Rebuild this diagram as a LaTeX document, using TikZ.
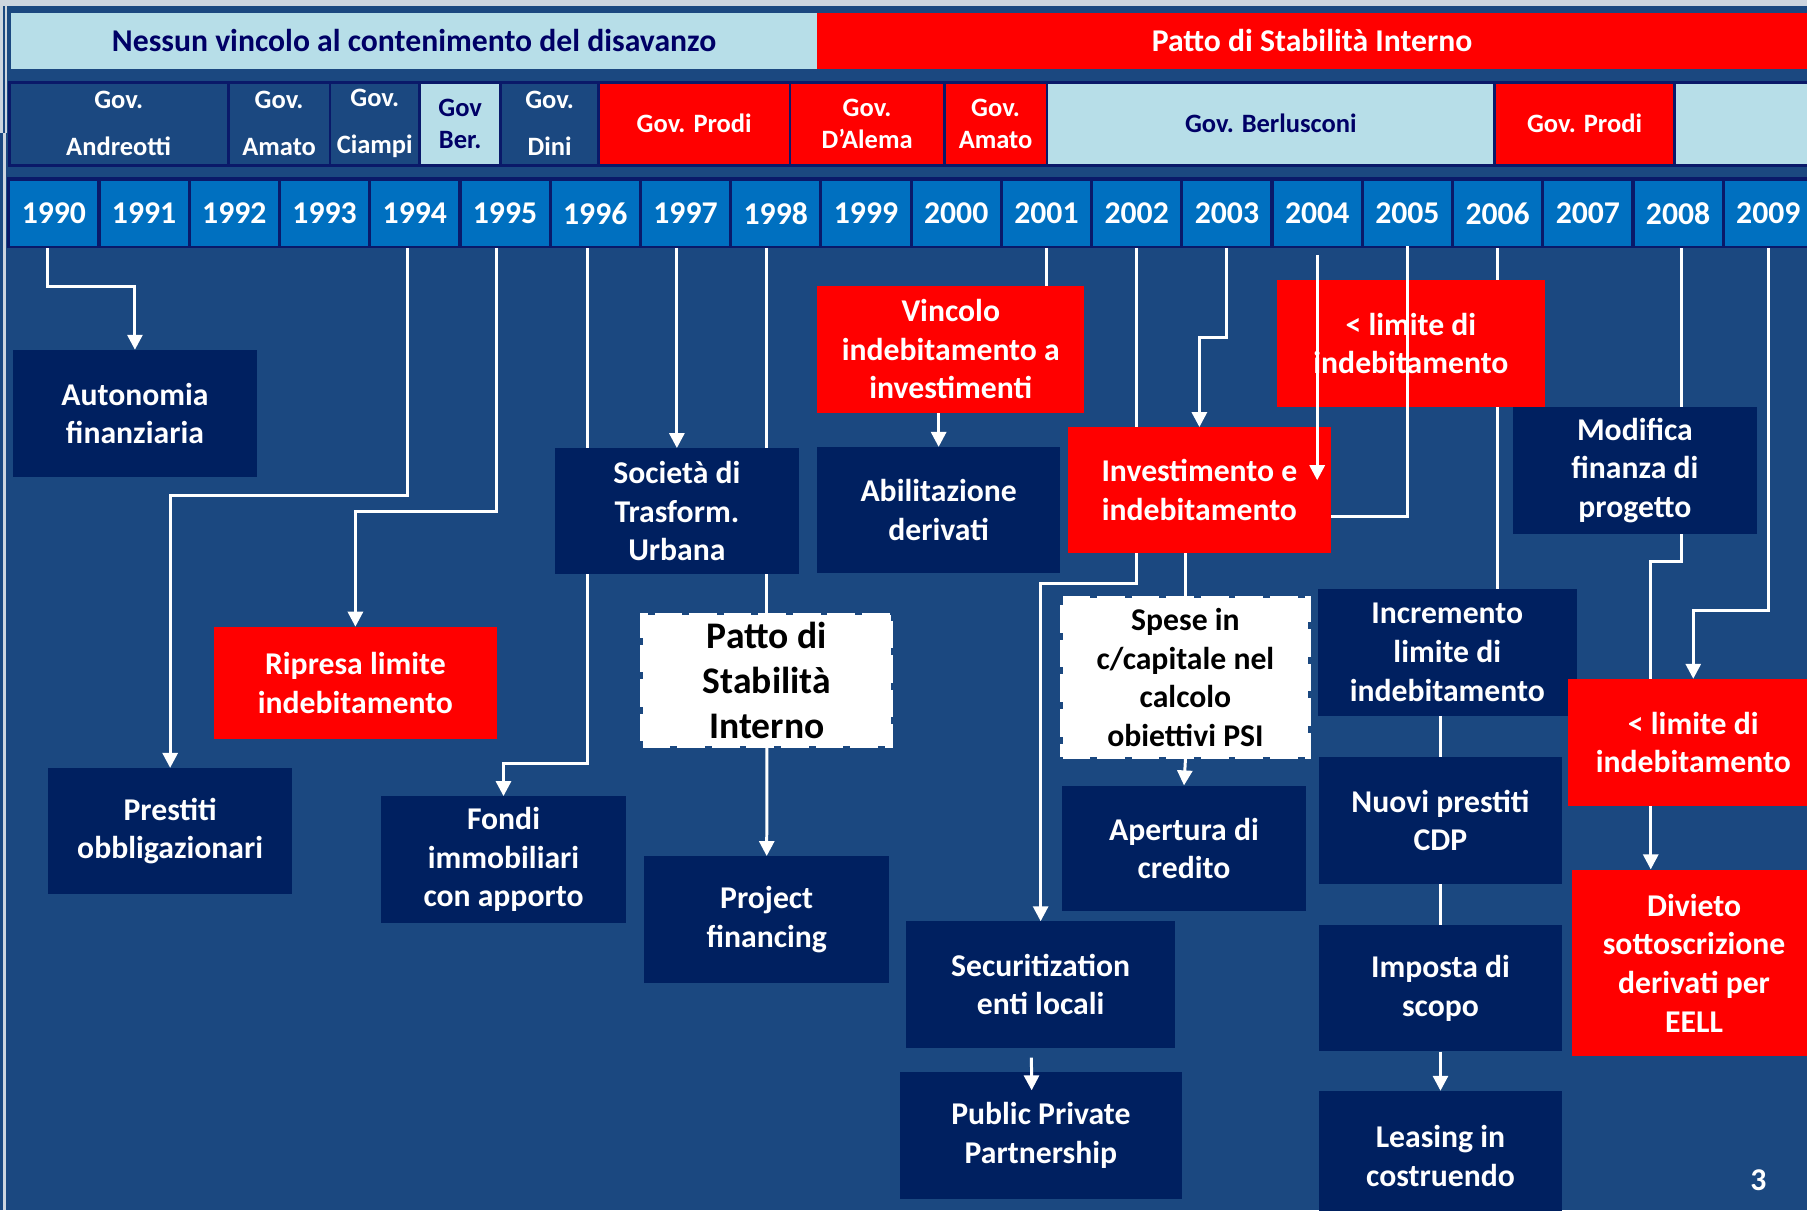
\documentclass[tikz,border=0pt]{standalone}
\usepackage{fontspec}
\setmainfont{Carlito}
\usetikzlibrary{arrows.meta,calc}

\definecolor{bgblue}{RGB}{27,72,128}
\definecolor{boxnavy}{RGB}{0,32,96}
\definecolor{yearblue}{RGB}{0,112,192}
\definecolor{paleblue}{RGB}{183,222,232}
\definecolor{rulenavy}{RGB}{10,25,105}
\definecolor{inknavy}{RGB}{0,0,102}
\definecolor{edgegray}{RGB}{205,213,223}
\definecolor{alarm}{RGB}{255,0,0}

\pgfdeclarelayer{back}
\pgfdeclarelayer{wires}
\pgfsetlayers{back,wires,main}

\tikzset{
  every node/.style={font={\bfseries\fontsize{27.5}{33.5}\selectfont},
    inner sep=0pt, align=center, text=white},
  navybox/.style={fill=boxnavy},
  redbox/.style={fill=alarm},
  notebox/.style={fill=white, draw=white, line width=4pt,
    dash pattern=on 24pt off 6pt, text=black},
  yearcell/.style={fill=yearblue, minimum width=75.5pt, minimum height=56.5pt},
  govcell/.style={draw=rulenavy, line width=2.5pt,
    font={\bfseries\fontsize{23}{41}\selectfont}},
  govtight/.style={govcell, font={\bfseries\fontsize{23}{27.5}\selectfont}},
  wire/.style={draw=white, line width=2.6pt},
  arrowwire/.style={wire, -{Triangle[width=13pt,length=13pt]}},
}

% box given by its left, top, right and bottom edges
\newcommand\cornerbox[7]{%
  \node[#2, minimum width={(#5)-(#3)}, minimum height={(#6)-(#4)}]
    (#1) at ({((#3)+(#5))/2},{((#4)+(#6))/2}) {#7};}

\begin{document}
\begin{tikzpicture}[x=1pt,y=-1pt]
\useasboundingbox (0,0) rectangle (1568,1050);
\clip (0,0) rectangle (1568,1050);

\begin{pgfonlayer}{back}
  \fill[bgblue] (0,0) rectangle (1568,1050);
  \fill[edgegray] (0,0) rectangle (1568,5.2);
  \fill[edgegray] (0,0) rectangle (6.3,115);
  \fill[bgblue] (2.3,5.2) rectangle (4.1,115);
  \fill[edgegray] (2.5,115) rectangle (5.5,1050);
\end{pgfonlayer}

% period band
\cornerbox{nolimit}{fill=paleblue, text=inknavy}{9.5}{11}{709}{60}{Nessun vincolo al contenimento del disavanzo}
\cornerbox{pattoband}{fill=alarm}{709}{11}{1568}{60}{Patto di Stabilità Interno}

% governments
\fill[rulenavy] (6.8,70) rectangle (1570,144.5);
\cornerbox{gAndreotti}{govcell, fill=bgblue}{8}{71.3}{198}{143.2}{Gov.\\Andreotti}
\cornerbox{gAmatoA}{govcell, fill=bgblue}{198}{71.3}{286.4}{143.2}{Gov.\\Amato}
\cornerbox{gCiampi}{govcell, fill=bgblue}{286.4}{71.3}{364}{143.2}{Gov.\\Ciampi}
\cornerbox{gBer}{govtight, fill=paleblue, text=inknavy}{364}{71.3}{434.6}{143.2}{Gov\\Ber.}
\cornerbox{gDini}{govcell, fill=bgblue}{434.6}{71.3}{519.3}{143.2}{Gov.\\Dini}
\cornerbox{gProdiA}{govtight, fill=alarm}{519.3}{71.3}{685.5}{143.2}{Gov. Prodi}
\cornerbox{gDAlema}{govtight, fill=alarm}{685.5}{71.3}{819.3}{143.2}{Gov.\\D’Alema}
\cornerbox{gAmatoB}{govtight, fill=alarm}{819.3}{71.3}{908.5}{143.2}{Gov.\\Amato}
\cornerbox{gBerlusconi}{govtight, fill=paleblue, text=inknavy}{908.5}{71.3}{1297}{143.2}{Gov. Berlusconi}
\cornerbox{gProdiB}{govtight, fill=alarm}{1297}{71.3}{1453}{143.2}{Gov. Prodi}
\cornerbox{gNext}{govtight, fill=paleblue}{1453}{71.3}{1575}{143.2}{}

% years
\fill[rulenavy] (6,153.5) rectangle (1570,215.5);
\foreach \i in {0,...,19}{
  \pgfmathtruncatemacro\yr{1990+\i}
  \node[yearcell] (y\yr) at ({46.75+78.3*\i},185.25) {\yr};
}

% measures
\cornerbox{autonomia}{navybox}{11.5}{303.7}{222.7}{413.6}{Autonomia\\finanziaria}
\cornerbox{prestiti}{navybox}{41.8}{666.5}{253.5}{776}{Prestiti\\obbligazionari}
\cornerbox{ripresa}{redbox}{185.8}{544}{431}{641.5}{Ripresa limite\\indebitamento}
\cornerbox{fondi}{navybox}{330.8}{691}{543}{800.6}{Fondi\\immobiliari\\con apporto}
\cornerbox{societa}{navybox}{481.7}{389}{693}{498.4}{Società di\\Trasform.\\Urbana}
\cornerbox{patto}{notebox, font={\bfseries\fontsize{32.6}{39}\selectfont}}{557.7}{533.7}{773.2}{647}{Patto di\\Stabilità\\Interno}
\cornerbox{project}{navybox}{559}{743}{771.6}{852.6}{Project\\financing}
\cornerbox{vincolo}{redbox}{709}{248.2}{941}{358}{Vincolo\\indebitamento a\\investimenti}
\cornerbox{abil}{navybox}{709}{388}{920}{497.5}{Abilitazione\\derivati}
\cornerbox{invest}{redbox}{926.5}{370.8}{1155}{480}{Investimento e\\indebitamento}
\cornerbox{spese}{notebox}{922}{519.2}{1135.3}{656.6}{Spese in\\c/capitale nel\\calcolo\\obiettivi PSI}
\cornerbox{apertura}{navybox}{921.5}{681.7}{1133.3}{790.8}{Apertura di\\credito}
\cornerbox{secur}{navybox}{786}{799.6}{1020}{909}{Securitization\\enti locali}
\cornerbox{ppp}{navybox}{781}{930.3}{1025.4}{1040}{Public Private\\Partnership}
\cornerbox{limiteA}{redbox}{1108}{243}{1340.6}{353}{< limite di\\indebitamento}
\cornerbox{modifica}{navybox}{1313}{353.5}{1524.3}{463}{Modifica\\finanza di\\progetto}
\cornerbox{incr}{navybox}{1143.7}{511}{1368}{621}{Incremento\\limite di\\indebitamento}
\cornerbox{nuovi}{navybox}{1144.3}{657}{1355.6}{766.8}{Nuovi prestiti\\CDP}
\cornerbox{imposta}{navybox}{1144.3}{803}{1355.6}{912.4}{Imposta di\\scopo}
\cornerbox{leasing}{navybox}{1144.3}{946.7}{1355.6}{1059}{Leasing in\\costruendo}
\cornerbox{limiteB}{redbox}{1360.6}{589.2}{1578}{699.2}{< limite di\\indebitamento}
\cornerbox{divieto}{redbox}{1364}{754.6}{1576}{916.7}{Divieto\\sottoscrizione\\derivati per\\EELL}

\node (pagenum) at (1525.8,1024) {3};

% connectors running behind the boxes
\begin{pgfonlayer}{wires}
  \draw[arrowwire] ([xshift=-5.5pt]y1990.south) -- ++(0,34.5) -| (autonomia.north);
  \draw[arrowwire] ([xshift=-6.5pt]y1994.south) -- ++(0,216.3) -| (prestiti.north);
  \draw[arrowwire] ([xshift=-7pt]y1995.south) -- ++(0,230.5) -| (ripresa.north);
  \draw[arrowwire] ([xshift=-7pt]y1996.south) -- ++(0,448.5) -| (fondi.north);
  \draw[arrowwire] (societa.north |- y1997.south) -- (societa.north);
  \draw[wire] (patto.north |- y1998.south) -- (patto.north);
  \draw[arrowwire] (patto.south) -- (project.north);
  \draw[wire] (y2001.south) -- (y2001.south |- vincolo.north);
  \draw[arrowwire] (abil.north |- vincolo.south) -- (abil.north);
  \draw[arrowwire] (y2002.south) -- ++(0,292.7) -| (secur.north);
  \draw[arrowwire] (y2003.south) -- ++(0,79.5) -| (invest.north);
  \draw[wire] (y2006.south) -- (y2006.south |- incr.north);
  \draw[arrowwire] ([xshift=2.5pt]y2008.south) -- ++(0,273.3) -| ([xshift=-37.6pt]divieto.north);
  \draw[arrowwire] (y2009.south) -- ++(0,315.8) -| (limiteB.north);
  \draw[wire] (spese.north |- invest.south) -- (spese.north);
  \draw[arrowwire] (spese.south) -- (apertura.north);
  \draw[wire] (nuovi.north |- incr.south) -- (nuovi.north);
  \draw[wire] (nuovi.south) -- (imposta.north);
  \draw[arrowwire] (imposta.south) -- (leasing.north);
\end{pgfonlayer}

% connectors crossing over the boxes
\draw[arrowwire] ($(y2004.south)+(0,7.5)$) -- ($(y2004.south)+(0,203)$);
\draw[wire] (y2005.south) -- ++(0,234.8) coordinate (bendA) -- (bendA -| invest.east);
\draw[arrowwire] ($(secur.south)+(-8,8.5)$) -- ($(ppp.north)+(-8,16)$);
\end{tikzpicture}
\end{document}
